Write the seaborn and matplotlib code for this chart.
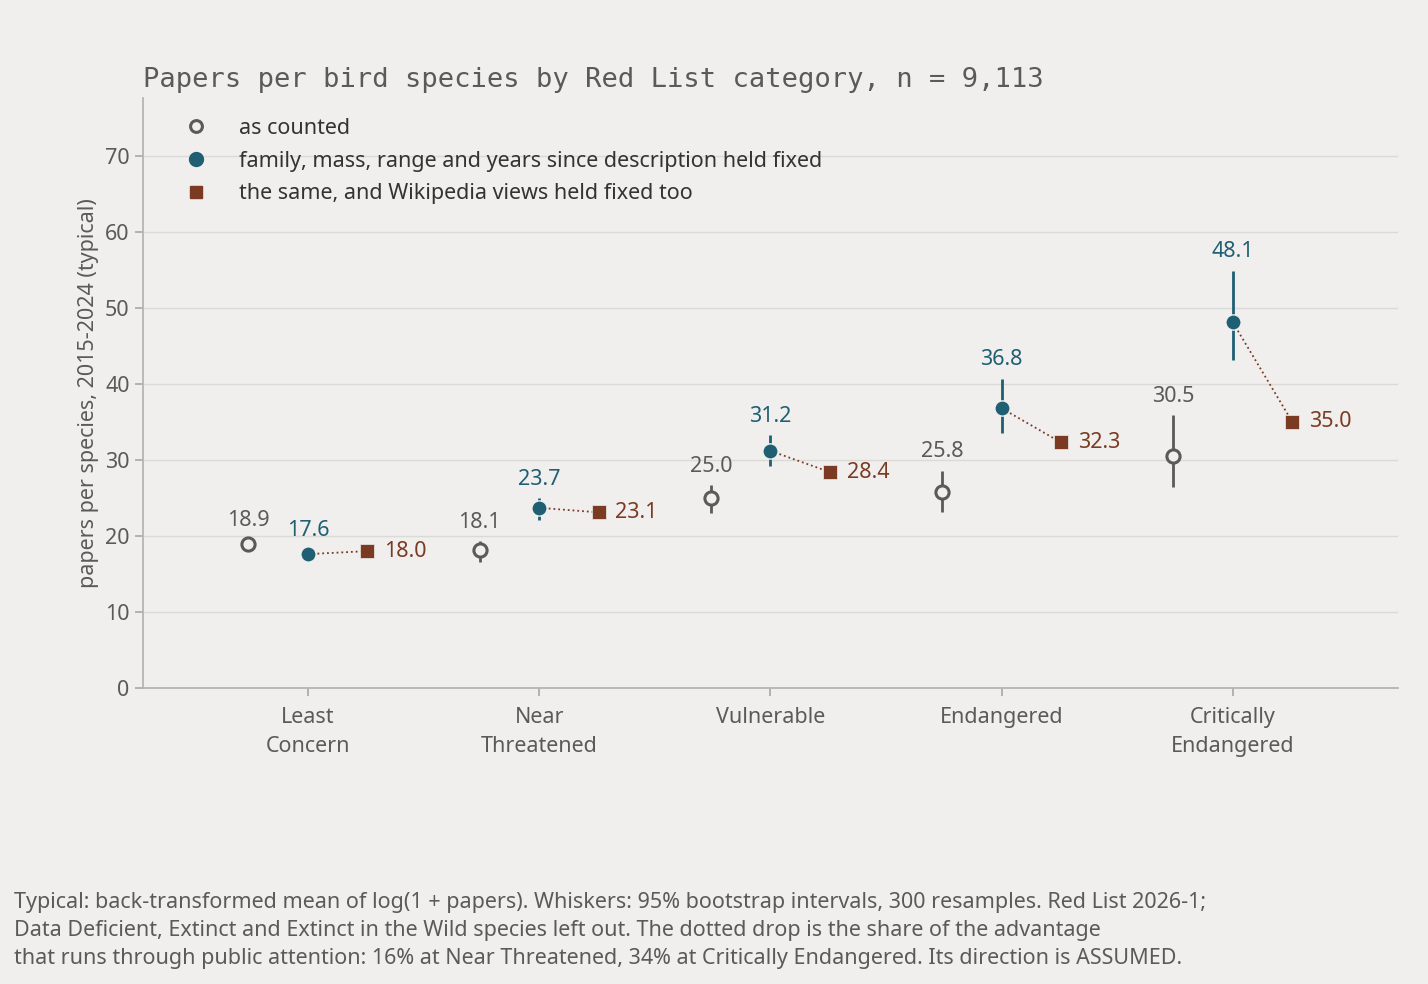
import matplotlib
matplotlib.use("Agg")
import matplotlib.pyplot as plt
import seaborn as sns
import pandas as pd
import numpy as np
from matplotlib.lines import Line2D

categories = ["Least\nConcern", "Near\nThreatened", "Vulnerable", "Endangered", "Critically\nEndangered"]
counted = [18.9, 18.1, 25.0, 25.8, 30.5]
counted_lo = [18.3, 16.6, 23.0, 23.2, 26.4]
counted_hi = [19.5, 19.3, 26.7, 28.6, 35.9]
adjusted = [17.6, 23.7, 31.2, 36.8, 48.1]
adjusted_lo = [17.0, 22.1, 29.2, 33.6, 43.2]
adjusted_hi = [18.2, 25.0, 33.3, 40.7, 54.9]
wiki = [18.0, 23.1, 28.4, 32.3, 35.0]

BG = "#f0efed"
GREY = "#5a5a5a"
BLUE = "#1f5f73"
BROWN = "#7a3b22"
FS = 15.5

sns.set_theme(style="white")
plt.rcParams["font.family"] = ["Noto Sans", "DejaVu Sans"]

fig = plt.figure(figsize=(14.28, 9.84), dpi=100, facecolor=BG)
ax = fig.add_axes([0.100, 0.301, 0.879, 0.599], facecolor=BG)

off = 0.257
idx = np.arange(len(categories))
df = pd.DataFrame({
    "x": np.concatenate([idx - off, idx, idx + off]),
    "y": counted + adjusted + wiki,
    "series": ["c"] * 5 + ["a"] * 5 + ["w"] * 5,
})

for y in range(0, 80, 10):
    ax.axhline(y, color="#dcdad6", lw=1, zorder=0)

ax.vlines(idx - off, counted_lo, counted_hi, color=GREY, lw=2, zorder=2)
ax.vlines(idx, adjusted_lo, adjusted_hi, color=BLUE, lw=2, zorder=2)
for i in idx:
    ax.plot([i, i + off], [adjusted[i], wiki[i]], ls=":", color=BROWN, lw=1.3, zorder=1)

sns.scatterplot(data=df[df.series == "c"], x="x", y="y", ax=ax, marker="o", s=90,
                facecolor=BG, edgecolor=GREY, linewidth=2.2, zorder=3, legend=False)
sns.scatterplot(data=df[df.series == "a"], x="x", y="y", ax=ax, marker="o", s=120,
                color=BLUE, edgecolor=BG, linewidth=1, zorder=3, legend=False)
sns.scatterplot(data=df[df.series == "w"], x="x", y="y", ax=ax, marker="s", s=95,
                color=BROWN, edgecolor=BG, linewidth=0.5, zorder=3, legend=False)

for i in idx:
    ax.annotate(f"{counted[i]:.1f}", (i - off, counted_hi[i]), xytext=(0, 6), textcoords="offset points",
                ha="center", va="bottom", fontsize=FS, color=GREY)
    ax.annotate(f"{adjusted[i]:.1f}", (i, adjusted_hi[i]), xytext=(0, 6), textcoords="offset points",
                ha="center", va="bottom", fontsize=FS, color=BLUE)
    ax.annotate(f"{wiki[i]:.1f}", (i + off, wiki[i]), xytext=(12, 0), textcoords="offset points",
                ha="left", va="center", fontsize=FS, color=BROWN)

ax.set_xlim(-0.714, 4.714)
ax.set_ylim(0, 77.6)
ax.set_yticks(range(0, 80, 10))
ax.set_xticks(idx)
ax.set_xticklabels(categories, fontsize=FS, color=GREY, linespacing=1.5)
ax.tick_params(axis="y", labelsize=FS, labelcolor=GREY, left=True, length=6, color="#aaaaaa")
ax.tick_params(axis="x", bottom=True, length=6, color="#aaaaaa", pad=8)
ax.set_xlabel("")
ax.set_ylabel("papers per species, 2015-2024 (typical)", fontsize=FS, color=GREY)
for s in ["top", "right"]:
    ax.spines[s].set_visible(False)
for s in ["left", "bottom"]:
    ax.spines[s].set_color("#b5b3b0")

ax.text(0, 1.01, "Papers per bird species by Red List category, n = 9,113",
        transform=ax.transAxes, fontsize=19.5, color=GREY, family="DejaVu Sans Mono",
        ha="left", va="bottom")

handles = [
    Line2D([], [], ls="", marker="o", ms=8.5, mfc=BG, mec=GREY, mew=2.2),
    Line2D([], [], ls="", marker="o", ms=10, color=BLUE),
    Line2D([], [], ls="", marker="s", ms=8.5, color=BROWN),
]
labels = ["as counted", "family, mass, range and years since description held fixed",
          "the same, and Wikipedia views held fixed too"]
leg = ax.legend(handles, labels, loc="upper left", bbox_to_anchor=(0.01, 1.0), frameon=False,
                fontsize=FS, handletextpad=1.0, labelspacing=0.55)
for t in leg.get_texts():
    t.set_color("#333333")

fig.text(0.01, 0.015,
         "Typical: back-transformed mean of log(1 + papers). Whiskers: 95% bootstrap intervals, 300 resamples. Red List 2026-1;\n"
         "Data Deficient, Extinct and Extinct in the Wild species left out. The dotted drop is the share of the advantage\n"
         "that runs through public attention: 16% at Near Threatened, 34% at Critically Endangered. Its direction is ASSUMED.",
         fontsize=FS, color=GREY, ha="left", va="bottom", linespacing=1.45)

fig.savefig("out.png", dpi=100, facecolor=BG)
